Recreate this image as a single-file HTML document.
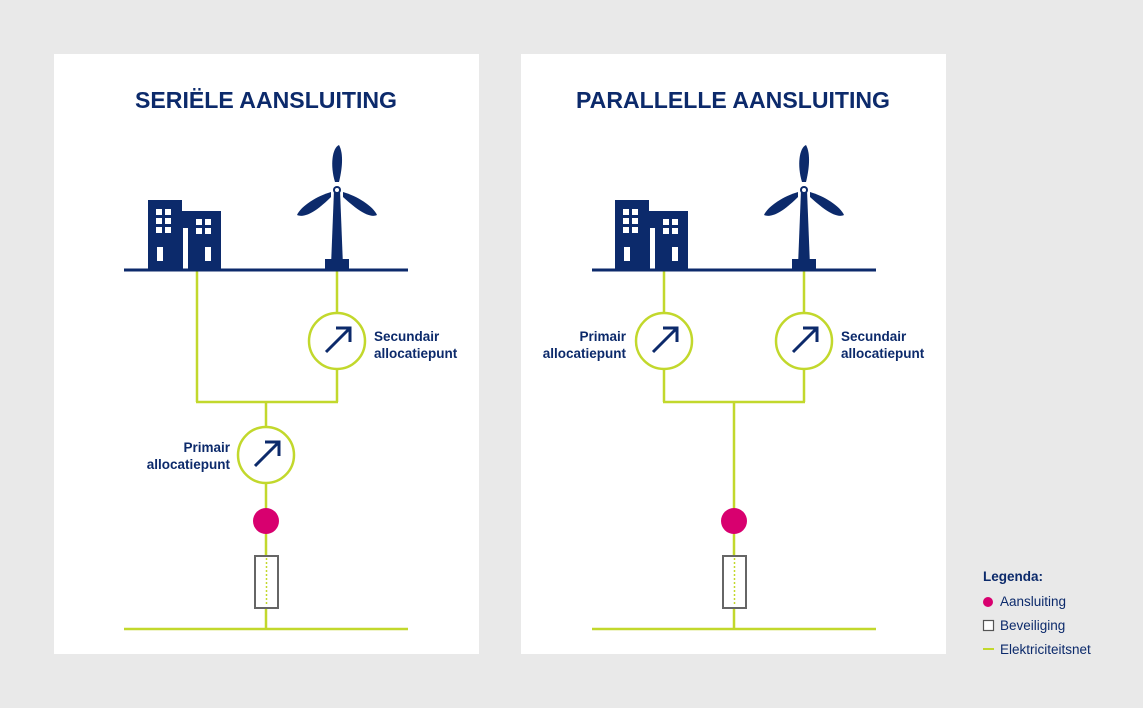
<!DOCTYPE html>
<html><head><style>
html,body{margin:0;padding:0;background:#e9e9e9;}
svg{display:block;}
text{font-family:"Liberation Sans",sans-serif;fill:#0c2a6b;}
</style></head><body>
<svg width="1143" height="708" viewBox="0 0 1143 708" xmlns="http://www.w3.org/2000/svg">
<rect width="1143" height="708" fill="#e9e9e9"/>
<defs>
<g id="bld" fill="#0c2a6b">
  <rect x="0" y="0" width="34" height="70"/>
  <rect x="34" y="11" width="39" height="59"/>
  <rect x="35" y="28" width="5" height="42" fill="#fff"/>
  <g fill="#fff">
    <rect x="8" y="9" width="6" height="6"/><rect x="17" y="9" width="6" height="6"/>
    <rect x="8" y="18" width="6" height="6"/><rect x="17" y="18" width="6" height="6"/>
    <rect x="8" y="27" width="6" height="6"/><rect x="17" y="27" width="6" height="6"/>
    <rect x="9" y="47" width="6" height="14"/>
    <rect x="48" y="19" width="6" height="6"/><rect x="57" y="19" width="6" height="6"/>
    <rect x="48" y="28" width="6" height="6"/><rect x="57" y="28" width="6" height="6"/>
    <rect x="57" y="47" width="6" height="14"/>
  </g>
</g>
<g id="tur" fill="#0c2a6b">
  <polygon points="-3,0 3,0 6,76 -6,76"/>
  <rect x="-12" y="69" width="24" height="12"/>
  <path d="M-2,-8 C-7,-24 -5,-42 2,-45 C7,-36 5,-20 2,-8 Z"/>
  <path d="M-6,2 C-20,6 -36,16 -40,25 C-31,29 -17,18 -6,7 Z"/>
  <path d="M6,2 C20,6 36,16 40,25 C32,29 18,18 6,7 Z"/>
  <circle cx="0" cy="0" r="4"/>
  <circle cx="0" cy="0" r="2" fill="#fff"/>
</g>
<g id="meter">
  <circle cx="0" cy="0" r="28" fill="#fff" stroke="#c2d82c" stroke-width="2.5"/>
  <line x1="-11" y1="11" x2="12" y2="-12" stroke="#0c2a6b" stroke-width="3"/>
  <polyline points="-1,-13 13,-13 13,1" fill="none" stroke="#0c2a6b" stroke-width="3"/>
</g>
</defs>

<!-- Left panel -->
<rect x="54" y="54" width="425" height="600" fill="#fff"/>
<text x="266" y="108" text-anchor="middle" font-size="23" font-weight="bold" textLength="262" lengthAdjust="spacingAndGlyphs">SERIËLE AANSLUITING</text>
<use href="#bld" x="148" y="200"/>
<use href="#tur" x="337" y="190"/>
<g stroke="#c2d82c" stroke-width="2.5" fill="none">
  <line x1="197" y1="270" x2="197" y2="402"/>
  <line x1="337" y1="270" x2="337" y2="402"/>
  <line x1="196" y1="402" x2="338" y2="402"/>
  <line x1="266" y1="402" x2="266" y2="629"/>
  <line x1="124" y1="629" x2="408" y2="629"/>
</g>
<line x1="124" y1="270" x2="408" y2="270" stroke="#0c2a6b" stroke-width="3"/>
<use href="#meter" x="337" y="341"/>
<use href="#meter" x="266" y="455"/>
<circle cx="266" cy="521" r="13" fill="#d8006f"/>
<rect x="255" y="556" width="23" height="52" fill="#fff" stroke="#666" stroke-width="2"/>
<line x1="266.5" y1="558" x2="266.5" y2="606" stroke="#c2d82c" stroke-width="1.5" stroke-dasharray="2,2"/>
<text x="374" y="341" font-size="13.5" font-weight="bold">Secundair</text>
<text x="374" y="358" font-size="13.5" font-weight="bold">allocatiepunt</text>
<text x="230" y="452" font-size="13.5" font-weight="bold" text-anchor="end">Primair</text>
<text x="230" y="469" font-size="13.5" font-weight="bold" text-anchor="end">allocatiepunt</text>

<!-- Right panel -->
<rect x="521" y="54" width="425" height="600" fill="#fff"/>
<text x="733" y="108" text-anchor="middle" font-size="23" font-weight="bold" textLength="314" lengthAdjust="spacingAndGlyphs">PARALLELLE AANSLUITING</text>
<use href="#bld" x="615" y="200"/>
<use href="#tur" x="804" y="190"/>
<g stroke="#c2d82c" stroke-width="2.5" fill="none">
  <line x1="664" y1="270" x2="664" y2="402"/>
  <line x1="804" y1="270" x2="804" y2="402"/>
  <line x1="663" y1="402" x2="805" y2="402"/>
  <line x1="734" y1="402" x2="734" y2="629"/>
  <line x1="592" y1="629" x2="876" y2="629"/>
</g>
<line x1="592" y1="270" x2="876" y2="270" stroke="#0c2a6b" stroke-width="3"/>
<use href="#meter" x="664" y="341"/>
<use href="#meter" x="804" y="341"/>
<circle cx="734" cy="521" r="13" fill="#d8006f"/>
<rect x="723" y="556" width="23" height="52" fill="#fff" stroke="#666" stroke-width="2"/>
<line x1="734.5" y1="558" x2="734.5" y2="606" stroke="#c2d82c" stroke-width="1.5" stroke-dasharray="2,2"/>
<text x="626" y="341" font-size="13.5" font-weight="bold" text-anchor="end">Primair</text>
<text x="626" y="358" font-size="13.5" font-weight="bold" text-anchor="end">allocatiepunt</text>
<text x="841" y="341" font-size="13.5" font-weight="bold">Secundair</text>
<text x="841" y="358" font-size="13.5" font-weight="bold">allocatiepunt</text>

<!-- Legend -->
<text x="983" y="581" font-size="13.5" font-weight="bold">Legenda:</text>
<circle cx="988" cy="602" r="5" fill="#d8006f"/>
<text x="1000" y="606" font-size="13.5">Aansluiting</text>
<rect x="983.5" y="620.5" width="10" height="10" fill="#fff" stroke="#555" stroke-width="1.2"/>
<text x="1000" y="630" font-size="13.5">Beveiliging</text>
<line x1="983" y1="649" x2="994" y2="649" stroke="#c2d82c" stroke-width="2"/>
<text x="1000" y="654" font-size="13.5">Elektriciteitsnet</text>
</svg>
</body></html>
